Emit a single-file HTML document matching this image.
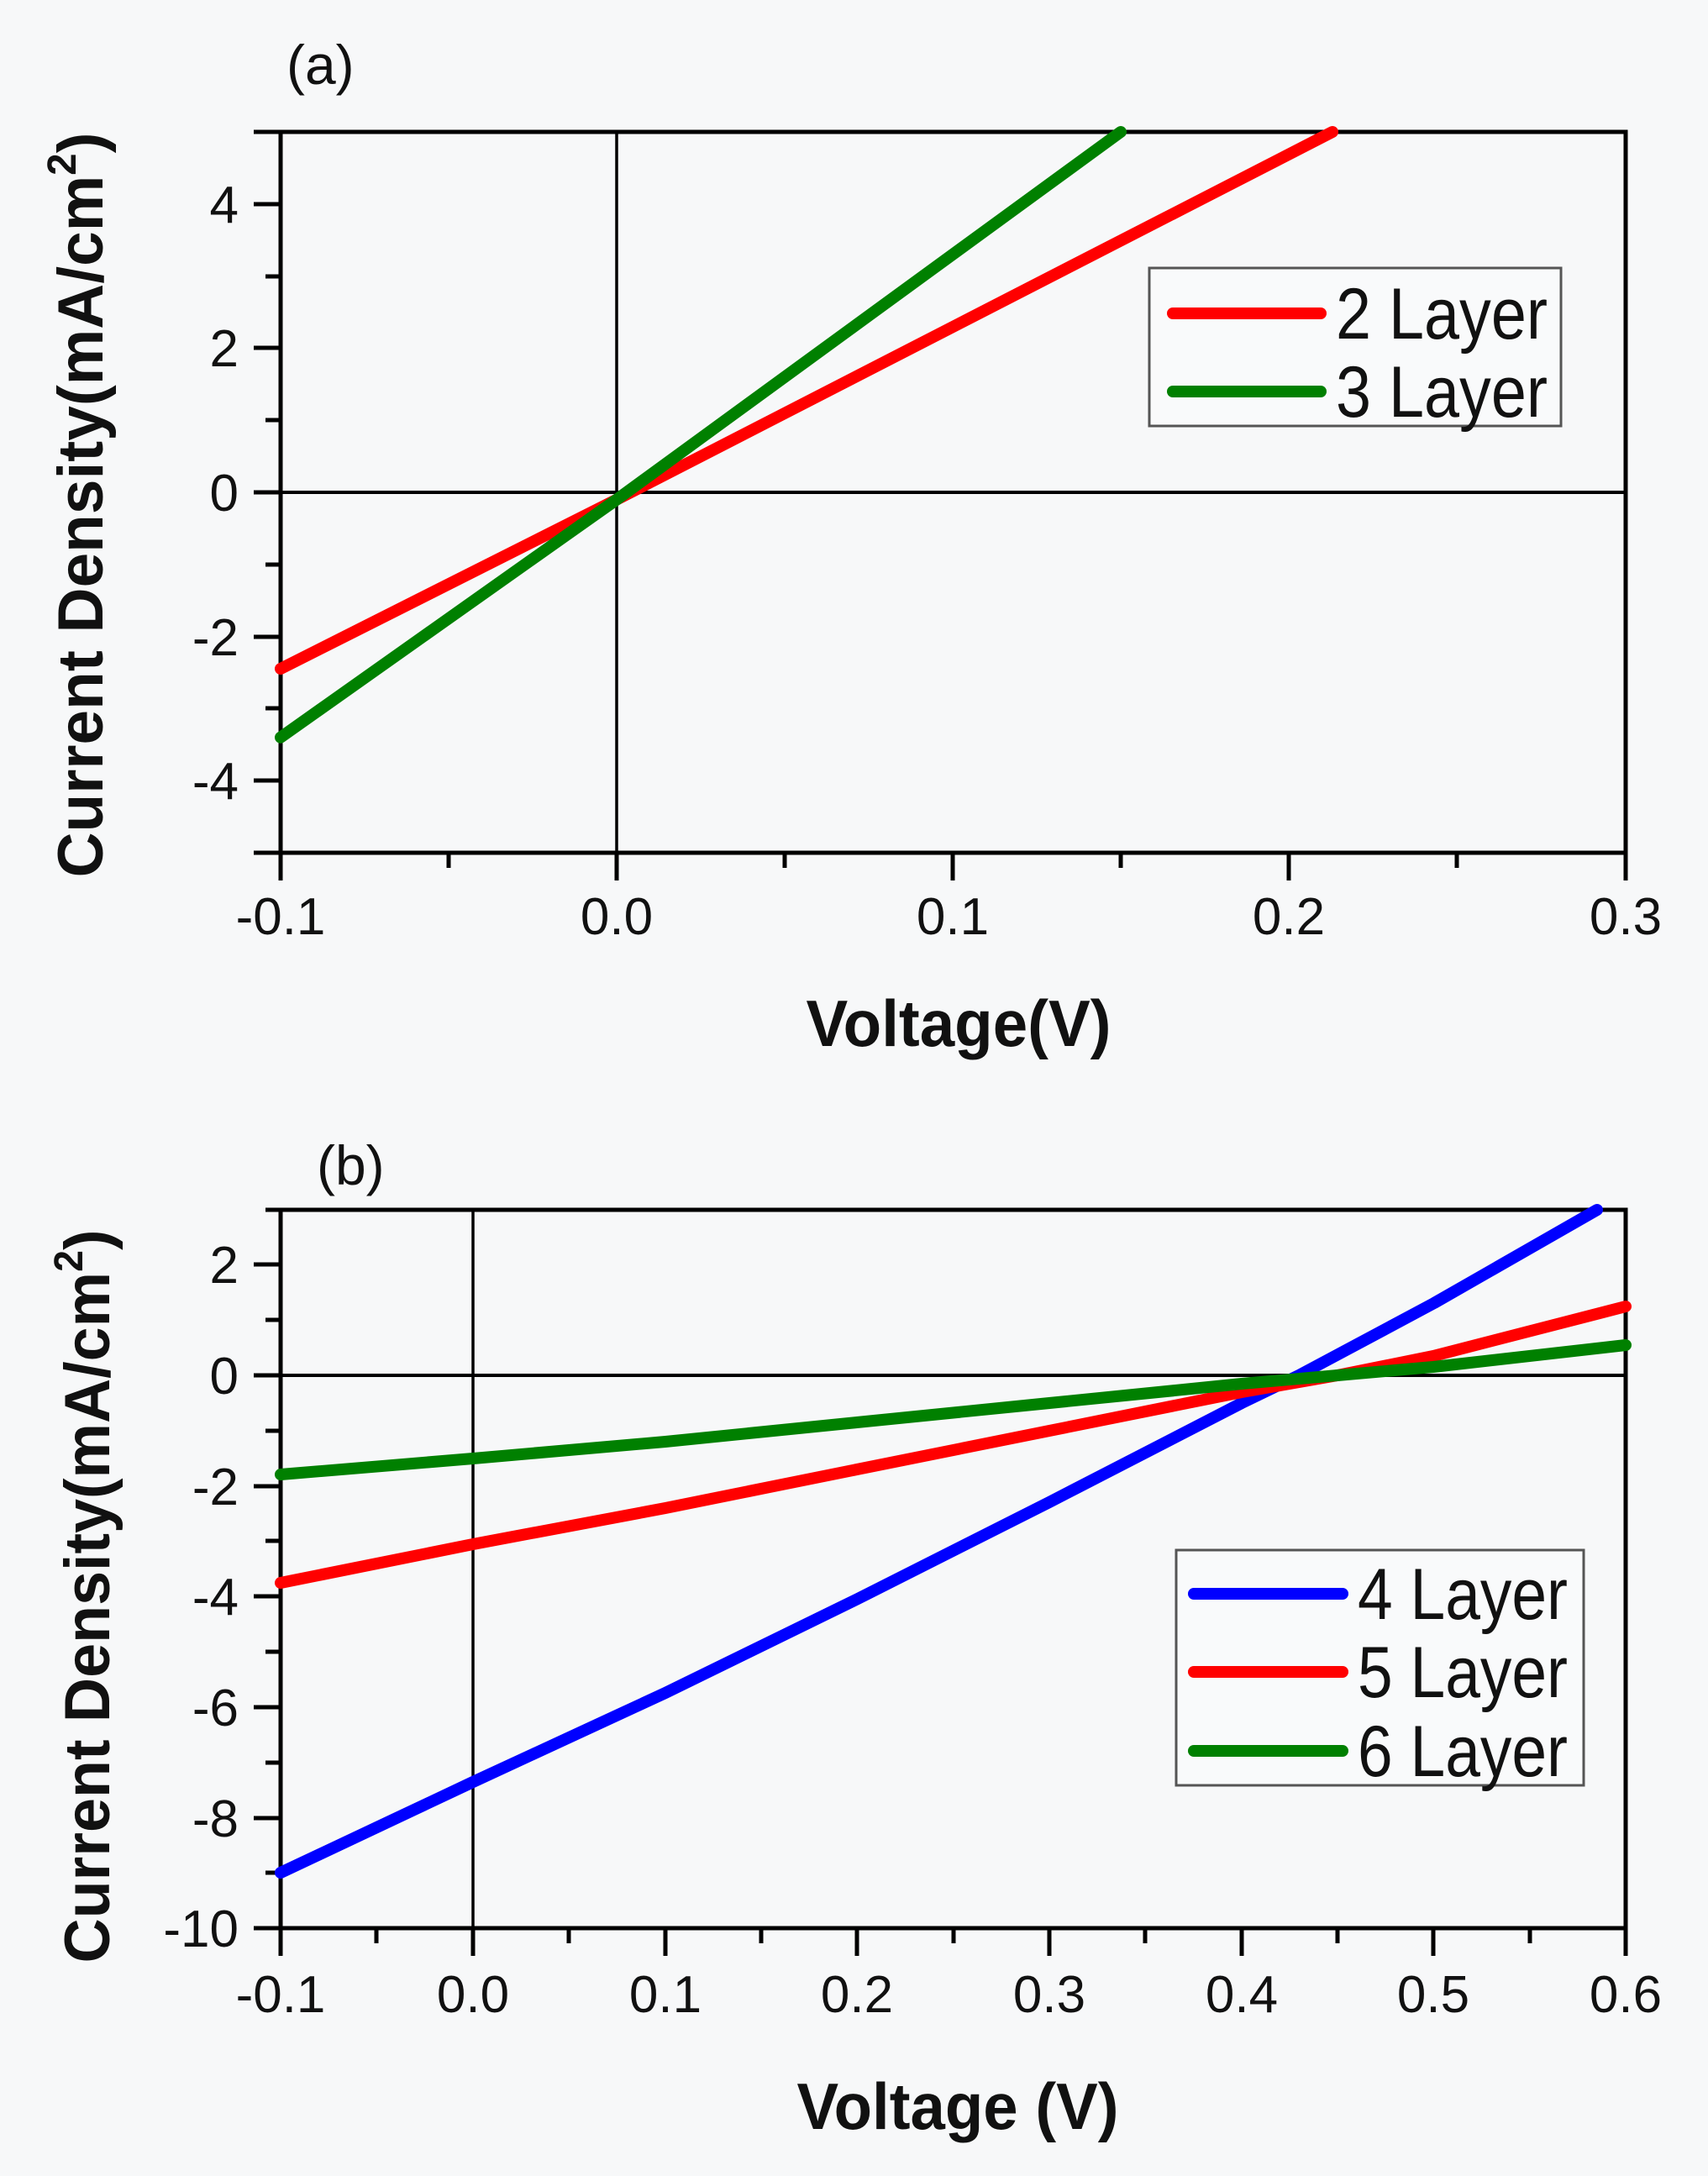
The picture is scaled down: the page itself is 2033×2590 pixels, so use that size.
<!DOCTYPE html>
<html><head><meta charset="utf-8"><style>
html,body{margin:0;padding:0;background:#f7f8f9;}
svg{display:block;}
text{font-family:"Liberation Sans",Arial,sans-serif;fill:#111;}
.t{font-size:62px;}
.b{font-weight:bold;}
</style></head><body>
<svg width="2033" height="2590" viewBox="0 0 2033 2590" xmlns="http://www.w3.org/2000/svg">
<rect width="2033" height="2590" fill="#f7f8f9"/>

<!-- ============ Panel (a) ============ -->
<text x="341" y="100" font-size="66">(a)</text>
<g stroke="#000" fill="none">
  <rect x="334" y="157" width="1601" height="858" stroke-width="5"/>
  <line x1="334" y1="586" x2="1935" y2="586" stroke-width="4"/>
  <line x1="734" y1="157" x2="734" y2="1015" stroke-width="3.5"/>
  <g stroke-width="5">
    <line x1="334" y1="1015" x2="334" y2="1048"/><line x1="734" y1="1015" x2="734" y2="1048"/>
    <line x1="1134" y1="1015" x2="1134" y2="1048"/><line x1="1534" y1="1015" x2="1534" y2="1048"/>
    <line x1="1935" y1="1015" x2="1935" y2="1048"/>
    <line x1="534" y1="1015" x2="534" y2="1033"/><line x1="934" y1="1015" x2="934" y2="1033"/>
    <line x1="1334" y1="1015" x2="1334" y2="1033"/><line x1="1734" y1="1015" x2="1734" y2="1033"/>
  </g>
  <g stroke-width="5">
    <line x1="302" y1="243" x2="334" y2="243"/><line x1="302" y1="414" x2="334" y2="414"/>
    <line x1="302" y1="586" x2="334" y2="586"/><line x1="302" y1="758" x2="334" y2="758"/>
    <line x1="302" y1="929" x2="334" y2="929"/>
    <line x1="316" y1="329" x2="334" y2="329"/><line x1="316" y1="500" x2="334" y2="500"/>
    <line x1="316" y1="672" x2="334" y2="672"/><line x1="316" y1="843" x2="334" y2="843"/>
    <line x1="302" y1="157" x2="334" y2="157"/><line x1="302" y1="1015" x2="334" y2="1015"/>
  </g>
</g>
<g class="t" text-anchor="end">
  <text x="284" y="265">4</text><text x="284" y="436">2</text><text x="284" y="608">0</text>
  <text x="284" y="780">-2</text><text x="284" y="951">-4</text>
</g>
<g class="t" text-anchor="middle">
  <text x="334" y="1112">-0.1</text><text x="734" y="1112">0.0</text><text x="1134" y="1112">0.1</text>
  <text x="1534" y="1112">0.2</text><text x="1935" y="1112">0.3</text>
</g>
<g stroke-width="14" fill="none" stroke-linecap="round">
  <polyline points="334,796 734,594.6 1586,157" stroke="#ff0000"/>
  <polyline points="334,877.7 734,594.6 1334,157" stroke="#008000"/>
</g>
<rect x="1368" y="319" width="490" height="188" fill="#f9fafb" stroke="#555" stroke-width="3"/>
<line x1="1396" y1="373" x2="1572" y2="373" stroke="#ff0000" stroke-width="14" stroke-linecap="round"/>
<line x1="1396" y1="466" x2="1572" y2="466" stroke="#008000" stroke-width="14" stroke-linecap="round"/>
<text x="1590" y="403" font-size="86" textLength="252" lengthAdjust="spacingAndGlyphs">2 Layer</text>
<text x="1590" y="496" font-size="86" textLength="252" lengthAdjust="spacingAndGlyphs">3 Layer</text>
<text class="b" x="1141" y="1245" font-size="78" text-anchor="middle" textLength="363" lengthAdjust="spacingAndGlyphs">Voltage(V)</text>
<text class="b" transform="translate(122,601) rotate(-90)" font-size="76" text-anchor="middle" textLength="887" lengthAdjust="spacingAndGlyphs">Current Density(mA/cm<tspan font-size="48" dy="-32">2</tspan><tspan dy="32">)</tspan></text>

<!-- ============ Panel (b) ============ -->
<text x="377" y="1410" font-size="66">(b)</text>
<g stroke="#000" fill="none">
  <rect x="334" y="1440" width="1601" height="855" stroke-width="5"/>
  <line x1="334" y1="1637" x2="1935" y2="1637" stroke-width="4"/>
  <line x1="563" y1="1440" x2="563" y2="2295" stroke-width="3.5"/>
  <g stroke-width="5">
    <line x1="334" y1="2295" x2="334" y2="2328"/><line x1="563" y1="2295" x2="563" y2="2328"/>
    <line x1="792" y1="2295" x2="792" y2="2328"/><line x1="1020" y1="2295" x2="1020" y2="2328"/>
    <line x1="1249" y1="2295" x2="1249" y2="2328"/><line x1="1478" y1="2295" x2="1478" y2="2328"/>
    <line x1="1706" y1="2295" x2="1706" y2="2328"/><line x1="1935" y1="2295" x2="1935" y2="2328"/>
    <line x1="448" y1="2295" x2="448" y2="2313"/><line x1="677" y1="2295" x2="677" y2="2313"/>
    <line x1="906" y1="2295" x2="906" y2="2313"/><line x1="1135" y1="2295" x2="1135" y2="2313"/>
    <line x1="1363" y1="2295" x2="1363" y2="2313"/><line x1="1592" y1="2295" x2="1592" y2="2313"/>
    <line x1="1821" y1="2295" x2="1821" y2="2313"/>
  </g>
  <g stroke-width="5">
    <line x1="302" y1="1505" x2="334" y2="1505"/><line x1="302" y1="1637" x2="334" y2="1637"/>
    <line x1="302" y1="1769" x2="334" y2="1769"/><line x1="302" y1="1900" x2="334" y2="1900"/>
    <line x1="302" y1="2032" x2="334" y2="2032"/><line x1="302" y1="2164" x2="334" y2="2164"/>
    <line x1="302" y1="2295" x2="334" y2="2295"/>
    <line x1="316" y1="1571" x2="334" y2="1571"/><line x1="316" y1="1703" x2="334" y2="1703"/>
    <line x1="316" y1="1834" x2="334" y2="1834"/><line x1="316" y1="1966" x2="334" y2="1966"/>
    <line x1="316" y1="2098" x2="334" y2="2098"/><line x1="316" y1="2229" x2="334" y2="2229"/>
    <line x1="316" y1="1440" x2="334" y2="1440"/>
  </g>
</g>
<g class="t" text-anchor="end">
  <text x="284" y="1527">2</text><text x="284" y="1659">0</text><text x="284" y="1791">-2</text>
  <text x="284" y="1922">-4</text><text x="284" y="2054">-6</text><text x="284" y="2186">-8</text>
  <text x="284" y="2317">-10</text>
</g>
<g class="t" text-anchor="middle">
  <text x="334" y="2395">-0.1</text><text x="563" y="2395">0.0</text><text x="792" y="2395">0.1</text>
  <text x="1020" y="2395">0.2</text><text x="1249" y="2395">0.3</text><text x="1478" y="2395">0.4</text>
  <text x="1706" y="2395">0.5</text><text x="1935" y="2395">0.6</text>
</g>
<g stroke-width="14" fill="none" stroke-linecap="round" stroke-linejoin="round">
  <polyline points="334,2229 563,2121 792,2015 1020,1903.5 1249,1788 1478,1670 1546,1637 1707,1551 1901,1440" stroke="#0000ff"/>
  <polyline points="334,1884 563,1838 792,1795 1020,1749 1249,1703 1478,1657 1592,1637 1706,1614 1935,1555" stroke="#ff0000"/>
  <polyline points="334,1755 563,1736 792,1716 1020,1693 1249,1670 1478,1647 1592,1637 1706,1627 1935,1601" stroke="#008000"/>
</g>
<rect x="1400" y="1845" width="485" height="280" fill="#f9fafb" stroke="#555" stroke-width="3"/>
<line x1="1421" y1="1897" x2="1598" y2="1897" stroke="#0000ff" stroke-width="14" stroke-linecap="round"/>
<line x1="1421" y1="1990" x2="1598" y2="1990" stroke="#ff0000" stroke-width="14" stroke-linecap="round"/>
<line x1="1421" y1="2084" x2="1598" y2="2084" stroke="#008000" stroke-width="14" stroke-linecap="round"/>
<text x="1616" y="1927" font-size="86" textLength="250" lengthAdjust="spacingAndGlyphs">4 Layer</text>
<text x="1616" y="2020" font-size="86" textLength="250" lengthAdjust="spacingAndGlyphs">5 Layer</text>
<text x="1616" y="2114" font-size="86" textLength="250" lengthAdjust="spacingAndGlyphs">6 Layer</text>
<text class="b" x="1140" y="2534" font-size="78" text-anchor="middle" textLength="383" lengthAdjust="spacingAndGlyphs">Voltage (V)</text>
<text class="b" transform="translate(130,1900) rotate(-90)" font-size="76" text-anchor="middle" textLength="873" lengthAdjust="spacingAndGlyphs">Current Density(mA/cm<tspan font-size="48" dy="-32">2</tspan><tspan dy="32">)</tspan></text>
</svg>
</body></html>
